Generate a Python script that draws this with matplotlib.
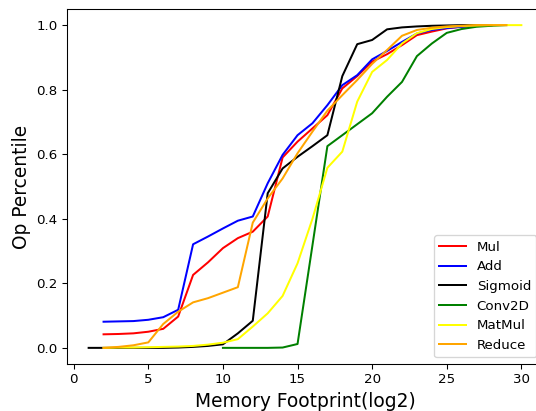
import matplotlib
matplotlib.use('Agg')
import matplotlib.pyplot as plt

# Op percentile vs memory footprint (log2), one curve per op type
mul_x = list(range(2, 29))
mul_y = [0.042, 0.043, 0.045, 0.050, 0.059, 0.097, 0.226, 0.265, 0.309, 0.340,
         0.360, 0.407, 0.590, 0.639, 0.680, 0.721, 0.804, 0.842, 0.887, 0.910,
         0.938, 0.969, 0.980, 0.990, 0.995, 0.998, 1.0]

add_x = list(range(2, 29))
add_y = [0.081, 0.082, 0.083, 0.087, 0.095, 0.118, 0.321, 0.345, 0.370, 0.394,
         0.407, 0.510, 0.598, 0.659, 0.696, 0.752, 0.814, 0.845, 0.894, 0.920,
         0.948, 0.974, 0.985, 0.991, 0.995, 0.998, 1.0]

sigmoid_x = list(range(1, 29))
sigmoid_y = [0.0, 0.0, 0.0, 0.0, 0.0, 0.0, 0.001, 0.003, 0.006, 0.011,
             0.045, 0.084, 0.479, 0.556, 0.592, 0.625, 0.659, 0.842, 0.941, 0.954,
             0.987, 0.993, 0.996, 0.998, 0.999, 1.0, 1.0, 1.0]

conv_x = list(range(10, 30))
conv_y = [0.0, 0.0, 0.0, 0.0, 0.001, 0.012, 0.318, 0.625, 0.659, 0.693,
          0.727, 0.778, 0.824, 0.904, 0.943, 0.976, 0.988, 0.995, 0.998, 1.0]

matmul_x = list(range(2, 31))
matmul_y = [0.0, 0.001, 0.001, 0.002, 0.003, 0.004, 0.006, 0.010, 0.016, 0.027,
            0.066, 0.107, 0.161, 0.262, 0.400, 0.558, 0.608, 0.763, 0.855, 0.892,
            0.943, 0.975, 0.988, 0.994, 0.997, 0.999, 1.0, 1.0, 1.0]

reduce_x = list(range(2, 30))
reduce_y = [0.0, 0.003, 0.008, 0.017, 0.074, 0.112, 0.141, 0.154, 0.171, 0.188,
            0.388, 0.463, 0.525, 0.603, 0.670, 0.735, 0.783, 0.830, 0.880, 0.923,
            0.967, 0.985, 0.992, 0.996, 0.998, 1.0, 1.0, 1.0]

# original looks like a 96 dpi figure cropped tight, right spine cut off
dpi = 96
fig = plt.figure(figsize=(536 / dpi, 411 / dpi), dpi=dpi)
ax = fig.add_axes([67 / 536, 47 / 411, 476 / 536, 355 / 411])

ax.plot(mul_x, mul_y, color='red', label='Mul')
ax.plot(add_x, add_y, color='blue', label='Add')
ax.plot(sigmoid_x, sigmoid_y, color='black', label='Sigmoid')
ax.plot(conv_x, conv_y, color='green', label='Conv2D')
ax.plot(matmul_x, matmul_y, color='yellow', label='MatMul')
ax.plot(reduce_x, reduce_y, color='orange', label='Reduce')

ax.set_xlabel("Memory Footprint(log2)", fontsize=14)
ax.set_ylabel("Op Percentile", fontsize=14)
ax.legend(loc='lower right')

plt.savefig('out.png', dpi=dpi)
